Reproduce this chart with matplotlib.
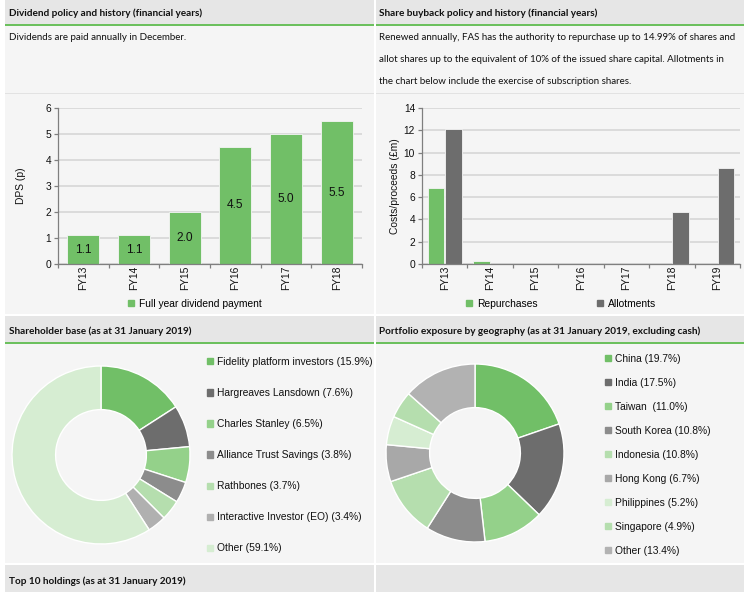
import matplotlib
matplotlib.use("Agg")
import matplotlib.pyplot as plt
from matplotlib.patches import Rectangle, Patch

W, H = 756, 592

# ---------------- data ----------------
div_years = ["FY13", "FY14", "FY15", "FY16", "FY17", "FY18"]
div_values = [1.1, 1.1, 2.0, 4.5, 5.0, 5.5]
div_labels = ["1.1", "1.1", "2.0", "4.5", "5.0", "5.5"]

bb_years = ["FY13", "FY14", "FY15", "FY16", "FY17", "FY18", "FY19"]
repurchases = [6.85, 0.25, 0, 0, 0, 0, 0]
allotments = [12.1, 0, 0, 0, 0, 4.65, 8.65]

holders = ["Fidelity platform investors", "Hargreaves Lansdown", "Charles Stanley",
           "Alliance Trust Savings", "Rathbones", "Interactive Investor (EO)", "Other"]
holder_pct = [15.9, 7.6, 6.5, 3.8, 3.7, 3.4, 59.1]

regions = ["China", "India", "Taiwan ", "South Korea", "Indonesia", "Hong Kong",
           "Philippines", "Singapore", "Other"]
region_pct = [19.7, 17.5, 11.0, 10.8, 10.8, 6.7, 5.2, 4.9, 13.4]

# ---------------- styles ----------------
GREEN = "#71bf67"
DGREY = "#6d6d6d"
holder_colors = ["#71bf67", "#6d6d6d", "#94d18a", "#8c8c8c", "#b5deae", "#b0b0b0", "#d6edd2"]
region_colors = ["#71bf67", "#6d6d6d", "#94d18a", "#8c8c8c", "#b5deae", "#a8a8a8",
                 "#d6edd2", "#b5deae", "#b2b2b2"]
HEAD_BG = "#e6e6e6"
PANEL_BG = "#f5f5f5"
LINE_GREEN = "#6cc05e"
CF = ["Liberation Sans", "DejaVu Sans"]
TF = ["Lato", "DejaVu Sans"]

fig = plt.figure(figsize=(W / 100, H / 100), dpi=100)
fig.patch.set_facecolor("white")


def rect(x0, y0, x1, y1, color):
    fig.patches.append(Rectangle((x0 / W, 1 - y1 / H), (x1 - x0) / W, (y1 - y0) / H,
                                 transform=fig.transFigure, facecolor=color,
                                 edgecolor="none", zorder=-10))


def ftext(x, y, s, **kw):
    fig.text(x / W, 1 - y / H, s, **kw)


def axes_px(x0, y0, x1, y1):
    ax = fig.add_axes([x0 / W, 1 - y1 / H, (x1 - x0) / W, (y1 - y0) / H])
    ax.set_zorder(5)
    return ax


# backgrounds
for (x0, x1) in [(5, 374), (376, 744)]:
    rect(x0, 0, x1, 24, HEAD_BG)
    rect(x0, 24, x1, 26, LINE_GREEN)
    rect(x0, 26, x1, 93, PANEL_BG)
    rect(x0, 93, x1, 94.5, "#e2e2e2")
    rect(x0, 94.5, x1, 314, PANEL_BG)
    rect(x0, 316, x1, 342, HEAD_BG)
    rect(x0, 342, x1, 344, LINE_GREEN)
    rect(x0, 344, x1, 563, PANEL_BG)
    rect(x0, 565, x1, 592, HEAD_BG)

# headers
hkw = dict(fontfamily=TF, fontweight="bold", fontsize=7.2, color="#111111", va="center")
ftext(9, 13, "Dividend policy and history (financial years)", **hkw)
ftext(379, 13, "Share buyback policy and history (financial years)", **hkw)
ftext(9, 331, "Shareholder base (as at 31 January 2019)", **hkw)
ftext(379, 331, "Portfolio exposure by geography (as at 31 January 2019, excluding cash)", **hkw)
ftext(9, 581, "Top 10 holdings (as at 31 January 2019)", **hkw)

bkw = dict(fontfamily=TF, fontsize=7.05, color="#111111", va="center")
ftext(9, 38, "Dividends are paid annually in December.", **bkw)
ftext(379, 38, "Renewed annually, FAS has the authority to repurchase up to 14.99% of shares and", **bkw)
ftext(379, 60, "allot shares up to the equivalent of 10% of the issued share capital. Allotments in", **bkw)
ftext(379, 82, "the chart below include the exercise of subscription shares.", **bkw)


def style_bar_axes(ax, labels, ymax, ystep, ylabel, lpad):
    n = len(labels)
    ax.set_facecolor("none")
    ax.set_xlim(-0.5, n - 0.5)
    ax.set_ylim(0, ymax)
    ax.set_yticks(range(0, ymax + 1, ystep))
    ax.set_xticks(range(n))
    ax.set_xticklabels(labels)
    ax.set_xticks([i + 0.5 for i in range(-1, n)], minor=True)
    for s in ["top", "right"]:
        ax.spines[s].set_visible(False)
    for s in ["left", "bottom"]:
        ax.spines[s].set_color("#7f7f7f")
        ax.spines[s].set_linewidth(0.9)
    ax.yaxis.grid(True, color="#d9d9d9", linewidth=1.3)
    ax.set_axisbelow(True)
    ax.tick_params(axis="x", which="major", length=0, pad=1.5, labelrotation=90,
                   labelsize=7.4, labelcolor="#111111")
    ax.tick_params(axis="x", which="minor", length=3, color="#7f7f7f", width=0.9)
    ax.tick_params(axis="y", length=3, color="#7f7f7f", width=0.9, labelsize=7.4,
                   labelcolor="#111111", pad=2)
    for lab in ax.get_xticklabels() + ax.get_yticklabels():
        lab.set_fontfamily(CF)
    ax.set_ylabel(ylabel, fontfamily=CF, fontsize=7.4, color="#111111", labelpad=lpad)


# dividend chart
ax1 = axes_px(58, 108, 362, 264)
x1 = list(range(len(div_years)))
ax1.bar(x1, div_values, width=0.63, color=GREEN, edgecolor="#f5f5f5", linewidth=0.6)
style_bar_axes(ax1, div_years, 6, 1, "DPS (p)", 14)
for xi, v, t in zip(x1, div_values, div_labels):
    ax1.text(xi, v / 2, t, ha="center", va="center", fontfamily=CF, fontsize=8.6,
             color="#111111")
ax1.legend(handles=[Patch(color=GREEN, label="Full year dividend payment")],
           loc="center", bbox_to_anchor=(0.45, -0.255), frameon=False,
           handlelength=0.55, handleheight=0.55, handletextpad=0.5,
           prop={"family": CF, "size": 7.4})

# buyback chart
ax2 = axes_px(422, 108, 740, 264)
x2 = list(range(len(bb_years)))
bw = 0.37
ax2.bar([i - bw / 2 - 0.005 for i in x2], repurchases, width=bw, color=GREEN,
        edgecolor="#f5f5f5", linewidth=0.6)
ax2.bar([i + bw / 2 + 0.005 for i in x2], allotments, width=bw, color=DGREY,
        edgecolor="#f5f5f5", linewidth=0.6)
style_bar_axes(ax2, bb_years, 14, 2, "Costs/proceeds (£m)", 3)
ax2.legend(handles=[Patch(color=GREEN, label="Repurchases"),
                    Patch(color=DGREY, label="Allotments")],
           loc="center", bbox_to_anchor=(0.437, -0.255), frameon=False, ncol=2,
           columnspacing=5.8, handlelength=0.55, handleheight=0.55, handletextpad=0.5,
           prop={"family": CF, "size": 7.4})


def donut(cx, cy, r, values, colors, labels, leg_x, leg_y, spacing):
    ax = axes_px(cx - r, cy - r, cx + r, cy + r)
    ax.set_facecolor("none")
    ax.pie(values, colors=colors, startangle=90, counterclock=False,
           radius=1, wedgeprops=dict(width=0.49, edgecolor="white", linewidth=1.0))
    ax.set_xlim(-1, 1)
    ax.set_ylim(-1, 1)
    ax.set_aspect("equal")
    ax.axis("off")
    leg = fig.legend(handles=[Patch(color=c, label=l) for c, l in zip(colors, labels)],
                     loc="upper left", bbox_to_anchor=(leg_x / W, 1 - leg_y / H),
                     frameon=False, handlelength=0.55, handleheight=0.55,
                     handletextpad=0.4, labelspacing=spacing, borderpad=0,
                     borderaxespad=0, prop={"family": CF, "size": 7.4})
    leg.set_zorder(6)
    for t in leg.get_texts():
        t.set_color("#111111")
    return ax


donut(101, 455, 89, holder_pct, holder_colors,
      [f"{n} ({v:.1f}%)" for n, v in zip(holders, holder_pct)], 207, 357, 2.05)
donut(475, 453, 89, region_pct, region_colors,
      [f"{n} ({v:.1f}%)" for n, v in zip(regions, region_pct)], 605, 354, 1.36)

fig.savefig("out.png", dpi=100, facecolor="white")
